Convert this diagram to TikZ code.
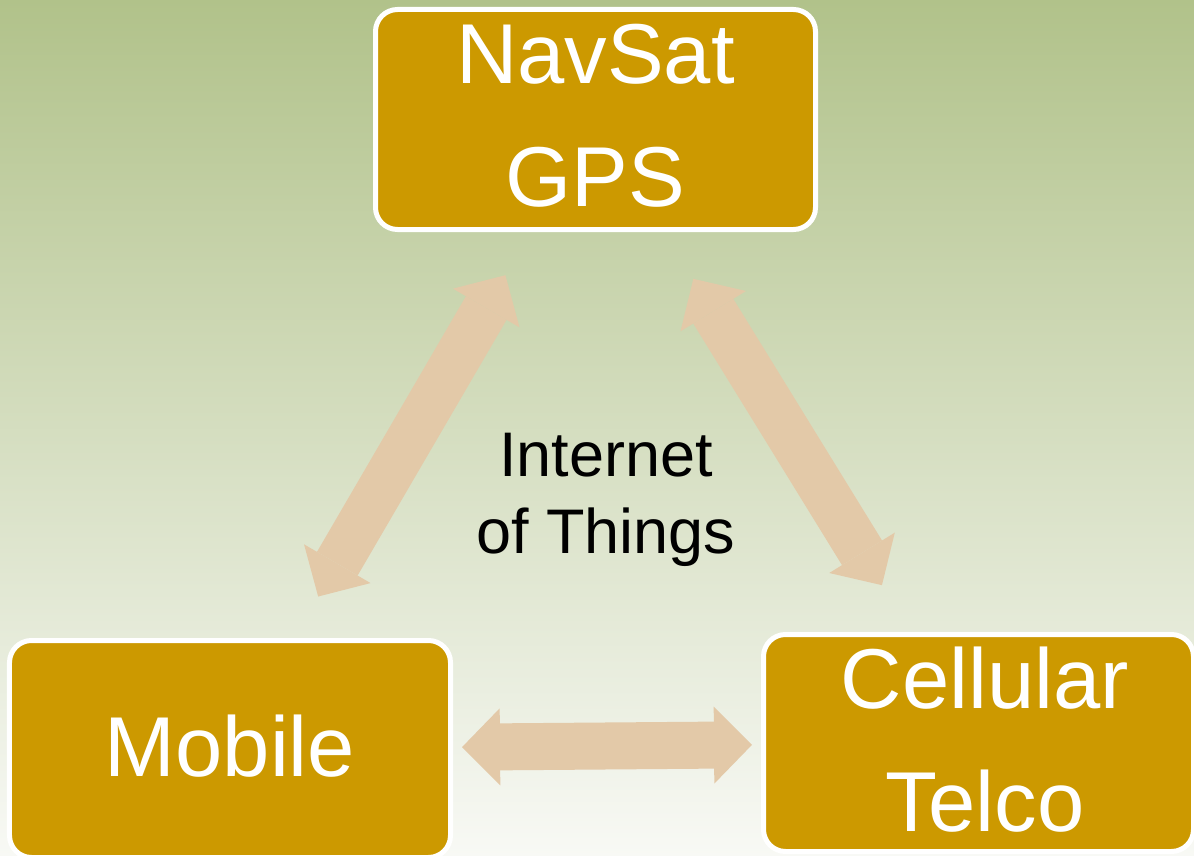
\documentclass[tikz,border=0pt]{standalone}
\usepackage{fontspec}
\setmainfont{Liberation Sans}
\usetikzlibrary{arrows.meta}

\definecolor{boxgold}{RGB}{204,153,0}
\definecolor{linktan}{RGB}{227,201,168}
\definecolor{bgtop}{RGB}{177,194,138}
\definecolor{bgmid}{RGB}{217,224,195}
\definecolor{bgbot}{RGB}{248,249,245}

\begin{document}
\begin{tikzpicture}[x=1bp,y=-1bp,
  box/.style={draw=white,line width=5bp,fill=boxgold,rounded corners=22bp,
    text=white,align=center,inner sep=0pt,text depth=8bp,
    font=\fontsize{85bp}{123bp}\selectfont},
  link/.style={draw=linktan,line width=47bp,
    {Triangle[length=38bp,width=77bp,line width=0pt]}-{Triangle[length=38bp,width=77bp,line width=0pt]}},
  tag/.style={align=center,inner sep=0pt,font=\fontsize{63bp}{77bp}\selectfont}]
 \useasboundingbox (0,0) rectangle (1194,856);
 \shade[top color=bgtop,middle color=bgmid,bottom color=bgbot] (0,0) rectangle (1194,856);
 \begin{scope}
 \clip (0,0) rectangle (1194,856);
 \node[box,minimum width=440bp,minimum height=220bp] (navsat) at (595.5,119.5) {NavSat\\GPS};
 \node[box,minimum width=441bp,minimum height=217bp,text depth=6bp] (mobile) at (230,749) {Mobile};
 \node[box,minimum width=430bp,minimum height=217bp] (cellular) at (978.5,743)
   {\hspace*{13bp}Cellular\\\hspace*{13bp}Telco};
 \end{scope}
 \node[tag] (iot) at (606,500) {Internet\\of Things};
 % links
 \draw[link,shorten <=50bp,shorten >=48bp] (navsat) -- (mobile);
 \draw[link,shorten <=55bp,shorten >=55bp] (navsat) -- (cellular);
 \draw[link,shorten <=9bp,shorten >=9bp] (mobile) -- (cellular);
\end{tikzpicture}
\end{document}
